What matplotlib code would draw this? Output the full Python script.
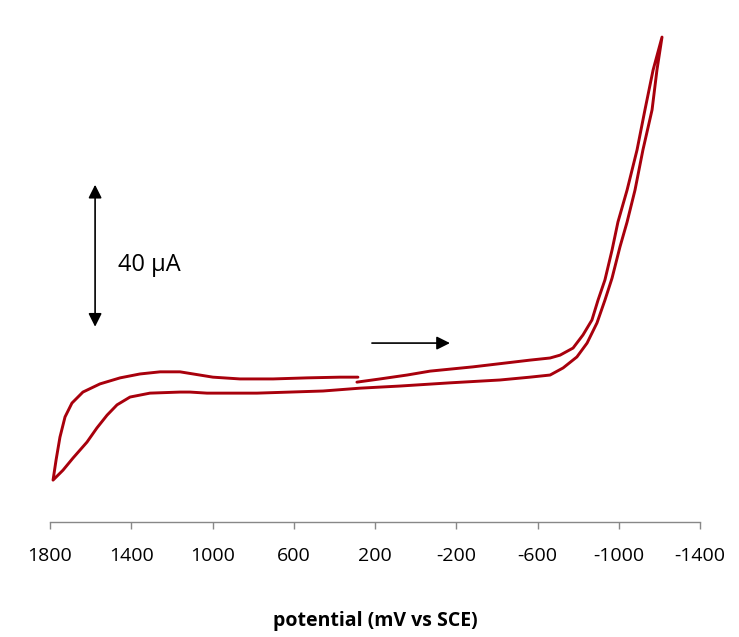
import numpy as np
import matplotlib.pyplot as plt

plt.rcParams['font.family'] = ['Open Sans', 'DejaVu Sans']

# cyclic voltammogram (mV vs SCE, current in uA, arbitrary offset)
# forward scan: start -> switching point at -1200 mV
v_fwd = [289, 175, 42, -71, -282, -563, -662, -711, -775, -824, -868, -898,
         -932, -967, -996, -1041, -1090, -1129, -1169, -1213]
i_fwd = [39.4, 40.3, 41.4, 42.5, 43.7, 45.6, 46.2, 47.0, 49.0, 52.7, 56.9, 62.5,
         68.2, 76.6, 84.5, 93.5, 104.8, 116.1, 127.3, 136.6]

# reverse scan: -1200 mV -> +1800 mV
v_rev = [-1188, -1164, -1119, -1080, -1041, -1006, -967, -932, -893, -844, -794,
         -726, -662, -563, -415, -169, 77, 274, 456, 618, 781, 1027, 1111,
         1160, 1308, 1406, 1470, 1519, 1569, 1618, 1687, 1736, 1785]
i_rev = [127.3, 116.1, 104.8, 93.5, 84.5, 77.5, 68.7, 62.5, 56.1, 50.4, 46.5,
         43.4, 41.4, 40.8, 40.0, 39.2, 38.3, 37.7, 36.9, 36.6, 36.3, 36.3, 36.6,
         36.6, 36.3, 35.2, 33.0, 30.1, 26.5, 22.5, 18.0, 14.6, 11.8]

# back from +1800 mV to the start
v_end = [1770, 1751, 1726, 1692, 1638, 1554, 1455, 1357, 1258, 1160, 998, 865,
         702, 535, 372, 284]
i_end = [17.5, 23.9, 29.6, 33.5, 36.6, 38.9, 40.6, 41.7, 42.3, 42.3, 40.8, 40.3,
         40.3, 40.6, 40.8, 40.8]

ticks = [1800, 1400, 1000, 600, 200, -200, -600, -1000, -1400]

V = np.array(v_fwd + v_rev + v_end)
I = np.array(i_fwd + i_rev + i_end)

fig = plt.figure(figsize=(7.39, 6.37), dpi=100)
ax = fig.add_axes([50/739, 1 - 522/637, 650/739, 502/637])
ax.plot(V, I, color='#A8000C', lw=2.1, solid_capstyle='round', solid_joinstyle='round')

ax.set_xlim(1800, -1400)
ax.set_ylim(0, 502/3.55)
ax.set_xticks(ticks)
ax.set_xticklabels([str(t) for t in ticks], fontsize=14)
ax.tick_params(axis='x', direction='out', length=5, width=1, color='#888888', pad=13)
ax.set_yticks([])
for s in ['top', 'right', 'left']:
    ax.spines[s].set_visible(False)
ax.spines['bottom'].set_color('#888888')
ax.spines['bottom'].set_linewidth(1)
ax.set_xlabel('potential (mV vs SCE)', fontsize=14, fontweight='bold', labelpad=33)

# 40 uA scale bar
ax.annotate('', xy=(1578, 95), xytext=(1578, 55),
            arrowprops=dict(arrowstyle='<|-|>', color='black', lw=1.2, mutation_scale=20,
                            shrinkA=0, shrinkB=0))
ax.text(1465, 72.4, '40 µA', fontsize=17, va='center', ha='left')

# scan direction
ax.annotate('', xy=(-169, 50.4), xytext=(215, 50.4),
            arrowprops=dict(arrowstyle='-|>', color='black', lw=1.2, mutation_scale=20,
                            shrinkA=0, shrinkB=0))

fig.savefig('out.png', dpi=100)
